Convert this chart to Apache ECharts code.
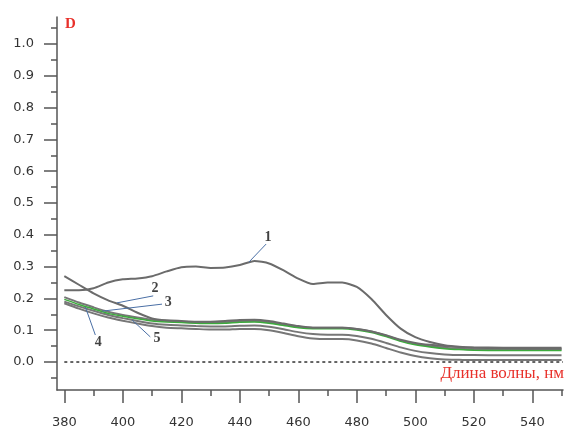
<!DOCTYPE html>
<html><head><meta charset="utf-8">
<script src="https://cdn.jsdelivr.net/npm/echarts@6/dist/echarts.min.js"></script>
<style>html,body{margin:0;padding:0;background:#fff}#c{width:566px;height:430px}</style>
</head><body><div id="c"></div>
<script>
var wl = [380,385,390,395,400,405,410,415,420,425,430,435,440,445,450,455,460,465,470,475,480,485,490,495,500,505,510,515,520,530,540,550];
var d1 = [0.226,0.226,0.232,0.250,0.260,0.263,0.270,0.285,0.298,0.300,0.296,0.297,0.305,0.318,0.310,0.288,0.262,0.245,0.250,0.250,0.236,0.198,0.148,0.105,0.078,0.063,0.053,0.048,0.046,0.045,0.045,0.045];
var d2 = [0.270,0.243,0.216,0.194,0.177,0.155,0.137,0.131,0.129,0.127,0.127,0.129,0.132,0.133,0.129,0.121,0.113,0.108,0.108,0.108,0.104,0.096,0.084,0.070,0.060,0.054,0.050,0.047,0.045,0.043,0.042,0.042];
var d3 = [0.204,0.187,0.172,0.158,0.148,0.140,0.133,0.129,0.127,0.125,0.124,0.125,0.128,0.129,0.125,0.118,0.111,0.108,0.108,0.108,0.104,0.096,0.083,0.068,0.057,0.050,0.045,0.042,0.040,0.039,0.039,0.039];
var dg = [0.197,0.181,0.167,0.153,0.144,0.136,0.129,0.126,0.124,0.122,0.121,0.122,0.125,0.126,0.122,0.115,0.108,0.105,0.105,0.105,0.101,0.093,0.080,0.065,0.054,0.047,0.042,0.039,0.037,0.036,0.036,0.036];
var d4 = [0.190,0.175,0.161,0.148,0.138,0.129,0.121,0.117,0.115,0.113,0.112,0.112,0.114,0.115,0.111,0.103,0.094,0.088,0.086,0.086,0.082,0.073,0.060,0.046,0.035,0.028,0.024,0.022,0.022,0.021,0.021,0.021];
var d5 = [0.185,0.168,0.153,0.140,0.130,0.121,0.113,0.108,0.106,0.104,0.102,0.102,0.104,0.104,0.100,0.091,0.081,0.074,0.072,0.072,0.068,0.058,0.044,0.030,0.019,0.012,0.008,0.007,0.006,0.006,0.006,0.006];
var zeroLine = [[380,0],[550.5,0]];
var xTicks = [380,400,420,440,460,480,500,520,540];
var xMinor = [390,410,430,450,470,490,510,530,550];
var yTicks = [0,0.1,0.2,0.3,0.4,0.5,0.6,0.7,0.8,0.9,1.0];
var yMinor = [-0.05,0.05,0.15,0.25,0.35,0.45,0.55,0.65,0.75,0.85,0.95,1.05];
var labelPts = [[449.6,0.393,'1'],[411,0.233,'2'],[415.5,0.186,'3'],[391.6,0.063,'4'],[411.7,0.075,'5']];
var pointers = [
  [[443.1,0.314],[449,0.371]],
  [[398,0.186],[410.4,0.208]],
  [[393,0.160],[413.4,0.182]],
  [[387.2,0.173],[390.6,0.085]],
  [[403.2,0.132],[409.4,0.079]]
];

function pairs(ys){ return wl.map(function(x,i){ return [x, ys[i]]; }); }
var gray = '#6b6b6b';
function curve(name, ys, color, w, z){
  return {name:name, type:'line', data:pairs(ys), symbol:'none', smooth:0.2, z:z||2,
    lineStyle:{color:color, width:w}, silent:true, animation:false};
}
var chart = echarts.init(document.getElementById('c'), null, {renderer:'canvas'});
chart.setOption({
  animation:false,
  grid:{left:57, top:17, right:3, bottom:40, outerBoundsMode:'none'},
  xAxis:[{
    type:'value', min:377.5, max:550.5, position:'bottom',
    axisLine:{show:true, onZero:false, lineStyle:{color:'#555', width:1.5}},
    axisTick:{show:true, customValues:xTicks, length:13, lineStyle:{color:'#555', width:1.5}},
    axisLabel:{customValues:xTicks, margin:26, color:'#333', fontFamily:'DejaVu Sans', fontSize:13},
    splitLine:{show:false}
  },{
    type:'value', min:377.5, max:550.5, position:'bottom',
    axisLine:{show:false, onZero:false},
    axisTick:{show:true, customValues:xMinor, length:6, lineStyle:{color:'#555', width:1.5}},
    axisLabel:{show:false}, splitLine:{show:false}
  }],
  yAxis:[{
    type:'value', min:-0.088, max:1.085, position:'left',
    axisLine:{show:true, onZero:false, lineStyle:{color:'#555', width:1.5}},
    axisTick:{show:true, customValues:yTicks, length:13, lineStyle:{color:'#555', width:1.5}},
    axisLabel:{customValues:yTicks, margin:23, color:'#333', fontFamily:'DejaVu Sans', fontSize:13,
      formatter:function(v){ return v.toFixed(1); }},
    splitLine:{show:false}
  },{
    type:'value', min:-0.088, max:1.085, position:'left',
    axisLine:{show:false, onZero:false},
    axisTick:{show:true, customValues:yMinor, length:6, lineStyle:{color:'#555', width:1.5}},
    axisLabel:{show:false}, splitLine:{show:false}
  }],
  graphic:[
    {type:'text', left:65, top:17, style:{text:'D', fill:'#e8302a', font:'bold 15px "Liberation Serif"'}},
    {type:'text', right:2, top:365, style:{text:'Длина волны, нм', fill:'#e8302a', font:'17px "Liberation Serif"'}}
  ],
  series:[
    {name:'zero', type:'line', data:zeroLine, symbol:'none', silent:true, z:1,
      lineStyle:{color:'#333', width:1.5, type:[3,3]}},
    curve('5', d5, '#777', 2, 2),
    curve('4', d4, '#777', 2, 2),
    curve('3', d3, '#777', 2, 2),
    curve('g', dg, '#3cab3c', 1.5, 3),
    curve('2', d2, gray, 2, 4),
    curve('1', d1, gray, 2, 4),
    {name:'labels', type:'scatter', data:labelPts, symbolSize:0, silent:true, z:6,
      label:{show:true, position:'inside', formatter:function(p){return p.value[2];},
        color:'#111', fontFamily:'Liberation Serif', fontSize:14, fontWeight:'bold'},
      markLine:{silent:true, symbol:'none', animation:false,
        lineStyle:{color:'#4a6fa5', width:1, type:'solid'}, label:{show:false},
        data:pointers.map(function(p){ return [{coord:p[0]},{coord:p[1]}]; })}
    }
  ]
});
</script></body></html>
